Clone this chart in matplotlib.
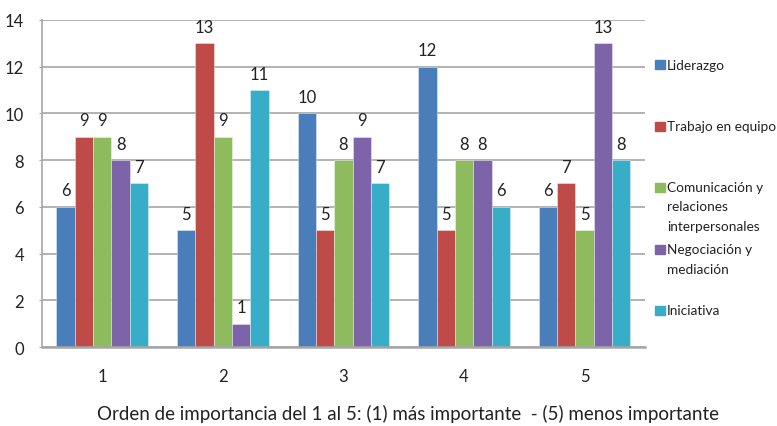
import numpy as np
import matplotlib
matplotlib.use("Agg")
import matplotlib.pyplot as plt
from matplotlib.patches import Rectangle

categories = ["1", "2", "3", "4", "5"]
series = ["Liderazgo", "Trabajo en equipo", "Comunicación y\nrelaciones\ninterpersonales",
          "Negociación y\nmediación", "Iniciativa"]
liderazgo = [6, 5, 10, 12, 6]
trabajo = [9, 13, 5, 5, 7]
comunicacion = [9, 9, 8, 8, 5]
negociacion = [8, 1, 9, 8, 13]
iniciativa = [7, 11, 7, 6, 8]
yticks = [0, 2, 4, 6, 8, 10, 12, 14]
xlabel = "Orden de importancia del 1 al 5: (1) más importante  - (5) menos importante"

colors = ["#4A7EBB", "#BE4B48", "#8DBB5E", "#7D63A8", "#37ADC8"]

plt.rcParams['font.family'] = ['Lato', 'DejaVu Sans']

W, H = 777, 427
fig = plt.figure(figsize=(W / 100, H / 100), dpi=100)
ax = fig.add_axes([0.054, 0.185, 0.776, 0.766])

x = np.arange(1, len(categories) + 1)
width = 0.152
values = [liderazgo, trabajo, comunicacion, negociacion, iniciativa]
for i, (name, vals, c) in enumerate(zip(series, values, colors)):
    bars = ax.bar(x + (i - 2) * width, vals, width, color=c, label=name, zorder=3,
                  edgecolor=(1, 1, 1, 0.45), linewidth=0.6)
    ax.bar_label(bars, padding=6, fontsize=12, color="#222222")

ax.set_xlim(0.5, 5.5)
ax.set_ylim(0, 14)
ax.set_yticks(yticks)
ax.set_xticks(x, categories)
ax.tick_params(axis="x", labelsize=12, colors="#222222", length=0, pad=15)
ax.tick_params(axis="y", labelsize=12, colors="#222222", length=2, pad=11)
ax.tick_params(axis="y", color="#A6A6A6")
ax.grid(axis="y", color="#A6A6A6", linewidth=1.2, zorder=0)
for s in ["top", "right"]:
    ax.spines[s].set_visible(False)
ax.spines["left"].set_color("#A6A6A6")
ax.spines["left"].set_linewidth(1.2)
ax.spines["bottom"].set_color("#A6A6A6")
ax.spines["bottom"].set_linewidth(1.8)
ax.spines["bottom"].set_zorder(4)

fig.text(0.525, 0.031, xlabel, fontsize=13.5, color="#222222", ha="center", va="center")

# legend drawn by hand: marker aligned with the first line of each label
legend_y = [65.5, 127, 188, 250, 311]   # first-line centres, pixels from top
line_step = 19.5
for name, c, yp in zip(series, colors, legend_y):
    fig.patches.append(Rectangle((655 / W, 1 - (yp + 4.5) / H), 9.5 / W, 9 / H,
                                 transform=fig.transFigure, color=c))
    for k, line in enumerate(name.split("\n")):
        fig.text(667 / W, 1 - (yp + k * line_step) / H, line, fontsize=9.8,
                 color="#222222", ha="left", va="center")

fig.savefig("out.png", dpi=100)
